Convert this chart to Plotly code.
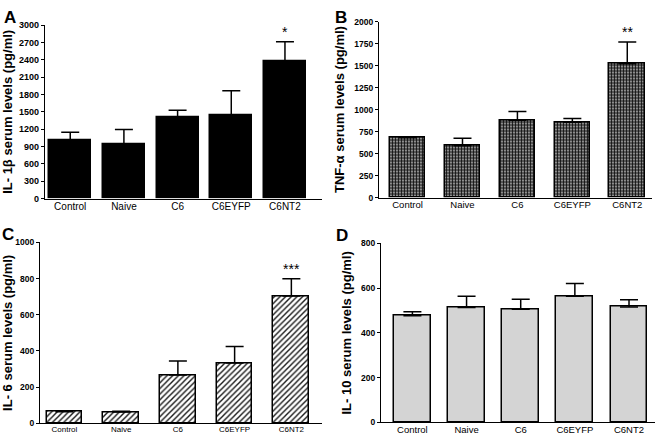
import plotly.graph_objects as go

categories = ["Control", "Naive", "C6", "C6EYFP", "C6NT2"]

il1b_mean = [1010, 940, 1415, 1445, 2375]
il1b_err = [135, 255, 115, 420, 338]

tnf_mean = [680, 588, 878, 856, 1520]
tnf_err = [5, 85, 100, 42, 248]

il6_mean = [64, 62, 267, 333, 704]
il6_err = [3, 4, 78, 91, 96]

il10_mean = [477, 513, 506, 564, 516]
il10_err = [17, 51, 44, 57, 32]

stars = ["*", "**", "***", ""]

W, H = 658, 440

def dom_x(a, b):
    return [a / W, b / W]

def dom_y(top, bottom):
    return [1 - bottom / H, 1 - top / H]

panels = [
    dict(mean=il1b_mean, err=il1b_err, xd=dom_x(45, 322), yd=dom_y(20.7, 198), yr=[0, 3000], dt=300,
         xr=[-0.47, 4.69], bw=0.78, title="IL- 1β serum levels (pg/ml)", letter="A", lx=2, ly=1,
         marker=dict(color="black"), tick=9, cat=10),
    dict(mean=tnf_mean, err=tnf_err, xd=dom_x(379, 652), yd=dom_y(17, 197), yr=[0, 2000], dt=250,
         xr=[-0.52, 4.45], bw=0.65, title="TNF-α serum levels (pg/ml)", letter="B", lx=333, ly=1,
         marker=dict(color="white", pattern=dict(shape=".", size=3, solidity=0.75, fgcolor="#111111",
                                                  bgcolor="white", fillmode="replace")), tick=8.5, cat=9.5),
    dict(mean=il6_mean, err=il6_err, xd=dom_x(40, 322), yd=dom_y(243, 428), yr=[0, 1000], dt=200,
         xr=[-0.43, 4.54], bw=0.63, title="IL- 6 serum levels (pg/ml)", letter="C", lx=0, ly=223,
         marker=dict(color="white", pattern=dict(shape="/", size=4, solidity=0.35, fgcolor="#1a1a1a",
                                                  bgcolor="white", fillmode="replace")), tick=8.5, cat=8),
    dict(mean=il10_mean, err=il10_err, xd=dom_x(381, 655), yd=dom_y(244, 427), yr=[0, 800], dt=200,
         xr=[-0.58, 4.48], bw=0.68, title="IL- 10 serum levels (pg/ml)", letter="D", lx=334, ly=224,
         marker=dict(color="#d4d4d4"), tick=8.5, cat=9.5),
]

fig = go.Figure()
annotations = []
for i, p in enumerate(panels):
    n = i + 1
    xa = "x" if n == 1 else f"x{n}"
    ya = "y" if n == 1 else f"y{n}"
    mk = dict(p["marker"])
    mk["line"] = dict(color="black", width=1.5)
    fig.add_trace(go.Bar(
        x=categories, y=p["mean"], width=p["bw"], marker=mk,
        error_y=dict(type="data", array=p["err"], arrayminus=[0] * 5, symmetric=False,
                     color="black", thickness=1.5, width=9),
        xaxis=xa, yaxis=ya, showlegend=False, hoverinfo="skip",
    ))
    fig.layout[f"xaxis{'' if n == 1 else n}"] = dict(
        domain=p["xd"], anchor=ya, range=p["xr"], showline=True, linecolor="black", linewidth=1.2,
        ticks="", showgrid=False, zeroline=False, ticklabelstandoff=-2,
        tickfont=dict(family="Liberation Sans, Arial", size=p["cat"], color="black"),
    )
    fig.layout[f"yaxis{'' if n == 1 else n}"] = dict(
        domain=p["yd"], anchor=xa, range=p["yr"], dtick=p["dt"], showline=True, linecolor="black",
        linewidth=1.2, ticks="outside", ticklen=3, tickcolor="black", showgrid=False, zeroline=False,
        tickfont=dict(family="Liberation Sans, Arial", size=p["tick"], color="black", weight="bold"),
        title=dict(text=p["title"], standoff=6,
                   font=dict(family="Liberation Sans, Arial", size=13, color="black", weight="bold")),
    )
    annotations.append(dict(
        text=p["letter"], x=p["lx"] / W, y=1 - p["ly"] / H, xref="paper", yref="paper",
        xanchor="left", yanchor="top", showarrow=False,
        font=dict(family="Liberation Sans, Arial", size=17, color="black", weight="bold"),
    ))
    if stars[i]:
        annotations.append(dict(
            text=stars[i], x=4, y=p["mean"][4] + p["err"][4], xref=xa, yref=ya,
            xanchor="center", yanchor="bottom", yshift=0, showarrow=False,
            font=dict(family="Liberation Sans, Arial", size=14, color="black"),
        ))

fig.update_layout(
    width=W, height=H, margin=dict(l=0, r=0, t=0, b=0),
    paper_bgcolor="white", plot_bgcolor="white",
    annotations=annotations, bargap=0,
)

fig.write_html(
    "out.html",
    config={"displayModeBar": False},
    post_script="document.body.style.margin='0';document.body.style.padding='0';"
                "document.body.style.overflow='hidden';",
)
